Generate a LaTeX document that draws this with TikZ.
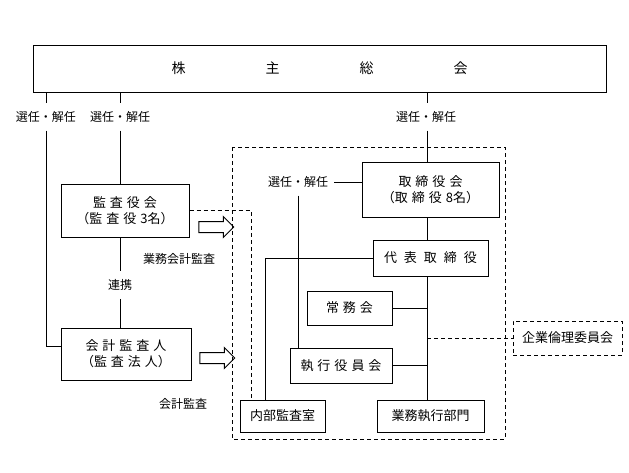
\documentclass[tikz,border=0pt]{standalone}
\usepackage{fontspec}
\setmainfont{Noto Sans CJK JP}
\usetikzlibrary{shapes.arrows}
\newcommand{\jsp}{\hspace{4pt}}
\newcommand{\wsp}{\hspace{7pt}}

\tikzset{
  box/.style={draw, line width=1pt, inner sep=0pt, align=center,
    font=\fontsize{13}{16}\selectfont},
  dbox/.style={box, dash pattern=on 4pt off 3pt},
  lbl/.style={inner xsep=6pt, inner ysep=8pt, font=\fontsize{12}{13}\selectfont},
  conn/.style={line width=1pt},
  dconn/.style={line width=1pt, dash pattern=on 4pt off 3pt},
  audit/.style={draw, line width=1pt, single arrow, single arrow head extend=5pt,
    inner xsep=0pt, inner ysep=5pt, minimum height=35pt}
}

\begin{document}
\begin{tikzpicture}[x=1pt, y=-1pt]
                \useasboundingbox (0, 0) rectangle (629, 472);

                \node[box, minimum width=573, minimum height=47, font=\fontsize{14}{16}\selectfont] (gm) at (319.5, 68.5)
                  {株\hspace{80pt}主\hspace{80pt}総\hspace{80pt}会};

                \node[box, minimum width=128, minimum height=53] (kansayaku) at (125, 210.5)
                  {監\jsp 査\jsp 役\jsp 会\\（監\jsp 査\jsp 役\jsp 3名）};
                \node[box, minimum width=130, minimum height=52] (kaikei) at (126, 354)
                  {会\jsp 計\jsp 監\jsp 査\jsp 人\\（監\jsp 査\jsp 法\jsp 人）};
                \node[box, minimum width=137, minimum height=55] (torishimari) at (430.5, 189.5)
                  {取\jsp 締\jsp 役\jsp 会\\（取\jsp 締\jsp 役\jsp 8名）};
                \node[box, minimum width=115, minimum height=36] (daihyo) at (430.5, 258)
                  {代\wsp 表\wsp 取\wsp 締\wsp 役};
                \node[box, minimum width=85, minimum height=34] (jomu) at (349.5, 308)
                  {常\jsp 務\jsp 会};
                \node[box, minimum width=102, minimum height=35] (shikko) at (341, 365.5)
                  {執\jsp 行\jsp 役\jsp 員\jsp 会};
                \node[box, minimum width=85, minimum height=32] (naibu) at (282.5, 416) {内部監査室};
                \node[box, minimum width=107, minimum height=32] (gyomu) at (430.5, 416) {業務執行部門};
                \node[dbox, minimum width=109, minimum height=34] (rinri) at (567.5, 338) {企業倫理委員会};

                \draw[dconn] (232, 147) rectangle (505, 439);

                \node[lbl] (l1) at (46, 117) {選任・解任};
                \node[lbl] (l2) at (120, 117) {選任・解任};
                \node[lbl] (l3) at (426, 117) {選任・解任};
                \node[lbl] (l4) at (298, 182) {選任・解任};
                \node[lbl] (renkei) at (120, 285) {連携};
                \node[lbl] (gyokan) at (179, 259) {業務会計監査};
                \node[lbl] (kaikan) at (183, 404) {会計監査};

                \node[audit] (arr1) at (213.5, 227) {};
                \node[audit] (arr2) at (214.5, 358) {};

                \coordinate (spine) at (427, 0);

                \draw[conn] (gm.south -| l1) -- (l1.north);
                \draw[conn] (l1.south) |- ([yshift=8pt]kaikei.west);
                \draw[conn] (gm.south -| l2) -- (l2.north);
                \draw[conn] (l2.south) -- (l2.south |- kansayaku.north);
                \draw[conn] (kansayaku.south -| renkei) -- (renkei.north);
                \draw[conn] (renkei.south) -- (renkei.south |- kaikei.north);

                \draw[conn] (gm.south -| spine) -- (l3.north -| spine);
                \draw[conn] (l3.south -| spine) -- (torishimari.north -| spine);
                \draw[conn] (torishimari.south -| spine) -- (daihyo.north -| spine);
                \draw[conn] (daihyo.south -| spine) -- (gyomu.north -| spine);
                \draw[conn] (jomu.east) -- (jomu.east -| spine);
                \draw[conn] (shikko.east) -- (shikko.east -| spine);
                \draw[dconn] (rinri.west -| spine) -- (rinri.west);

                \draw[conn] (l4.east) -- (torishimari.west |- l4.east);
                \draw[conn] (l4.south) -- (l4.south |- shikko.north);
                \draw[conn] (daihyo.west) -| ([xshift=-17.5pt]naibu.north);
                \draw[dconn] (kansayaku.east) -| ([xshift=-31.5pt]naibu.north);
\end{tikzpicture}
\end{document}
